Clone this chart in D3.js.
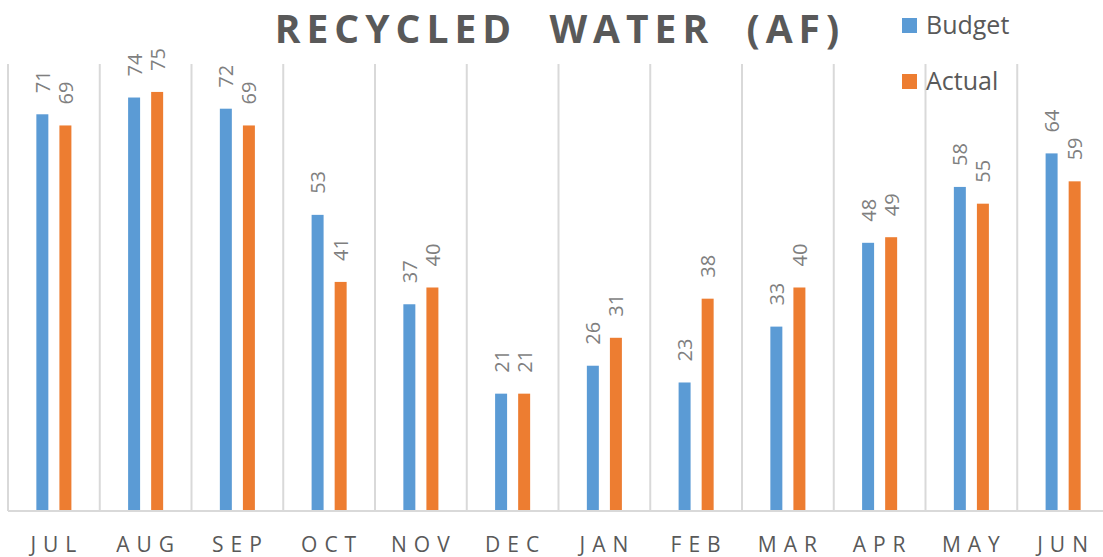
<!DOCTYPE html>
<meta charset="utf-8">
<style>
  body { margin: 0; background: #fff; }
  .title {
    font-family: "Open Sans", sans-serif;
    font-weight: bold;
    font-size: 39px;
    fill: #595959;
    letter-spacing: 6px;
    white-space: pre;
  }
  .month {
    font-family: "Open Sans", sans-serif;
    font-size: 21px;
    fill: #595959;
    letter-spacing: 7px;
  }
  .val {
    font-family: "Open Sans", sans-serif;
    font-size: 20px;
    fill: #7f7f7f;
  }
  .legend text {
    font-family: "Open Sans", sans-serif;
    font-size: 25px;
    fill: #595959;
  }
</style>
<body>
<script src="https://d3js.org/d3.v7.min.js"></script>
<script>
var months = ["JUL", "AUG", "SEP", "OCT", "NOV", "DEC", "JAN", "FEB", "MAR", "APR", "MAY", "JUN"];
var budget = [71, 74, 72, 53, 37, 21, 26, 23, 33, 48, 58, 64];
var actual = [69, 75, 69, 41, 40, 21, 31, 38, 40, 49, 55, 59];
var seriesNames = ["Budget", "Actual"];
var colors = ["#5b9bd5", "#ed7d31"];

var width = 1103, height = 557;

var svg = d3.select("body")
            .append("svg")
            .attr("width", width)
            .attr("height", height);

// plot runs a bit past the right edge, like the original
var x = d3.scaleBand()
    .domain(months)
    .range([8, 1109]);

var xs = d3.scaleBand()
    .domain(seriesNames)
    .range([0, x.bandwidth()])
    .paddingInner(0.48)
    .paddingOuter(1.23);

var y = d3.scaleLinear()
    .domain([0, 80])
    .range([511, 64]);

// vertical separators
var edges = months.map(function(m) { return x(m); }).concat([x(months[11]) + x.bandwidth()]);
svg.append("g")
  .selectAll("line")
  .data(edges)
  .enter().append("line")
    .attr("x1", function(d) { return d; })
    .attr("x2", function(d) { return d; })
    .attr("y1", y(80))
    .attr("y2", y(0))
    .style("stroke", "#d9d9d9")
    .style("stroke-width", 2);

var rows = months.map(function(m, i) {
  return { month: m, values: [budget[i], actual[i]] };
});

var groups = svg.append("g")
  .selectAll("g")
  .data(rows)
  .enter().append("g")
    .attr("transform", function(d) { return "translate(" + x(d.month) + ",0)"; });

groups.selectAll("rect")
  .data(function(d) { return d.values.map(function(v, j) { return { s: seriesNames[j], v: v, j: j }; }); })
  .enter().append("rect")
    .attr("x", function(d) { return xs(d.s); })
    .attr("y", function(d) { return y(d.v); })
    .attr("width", xs.bandwidth())
    .attr("height", function(d) { return y(0) - y(d.v); })
    .attr("fill", function(d) { return colors[d.j]; });

groups.selectAll("text")
  .data(function(d) { return d.values.map(function(v, j) { return { s: seriesNames[j], v: v }; }); })
  .enter().append("text")
    .attr("class", "val")
    .attr("transform", function(d) {
      return "translate(" + (xs(d.s) + xs.bandwidth() / 2) + "," + (y(d.v) - 21) + ") rotate(-90)";
    })
    .attr("text-anchor", "start")
    .attr("dominant-baseline", "central")
    .text(function(d) { return d.v; });

// baseline
svg.append("line")
    .attr("x1", 8)
    .attr("x2", 1109)
    .attr("y1", y(0))
    .attr("y2", y(0))
    .style("stroke", "#d9d9d9")
    .style("stroke-width", 2);

// month labels
svg.append("g")
  .selectAll("text")
  .data(months)
  .enter().append("text")
    .attr("class", "month")
    .attr("x", function(d) { return x(d) + x.bandwidth() / 2 + 3; })
    .attr("y", 552)
    .attr("text-anchor", "middle")
    .text(function(d) { return d; });

svg.append("text")
    .attr("class", "title")
    .attr("x", 560)
    .attr("y", 43)
    .attr("text-anchor", "middle")
    .text("RECYCLED  WATER  (AF)");

var legend = svg.append("g")
    .attr("class", "legend")
    .attr("transform", "translate(902,18)");

legend.selectAll("rect")
  .data(seriesNames)
  .enter().append("rect")
    .attr("x", 0)
    .attr("y", function(d, i) { return i * 56; })
    .attr("width", 15)
    .attr("height", 15)
    .attr("fill", function(d, i) { return colors[i]; });

legend.selectAll("text")
  .data(seriesNames)
  .enter().append("text")
    .attr("x", 24)
    .attr("y", function(d, i) { return i * 56 + 16; })
    .text(function(d) { return d; });
</script>
</body>
